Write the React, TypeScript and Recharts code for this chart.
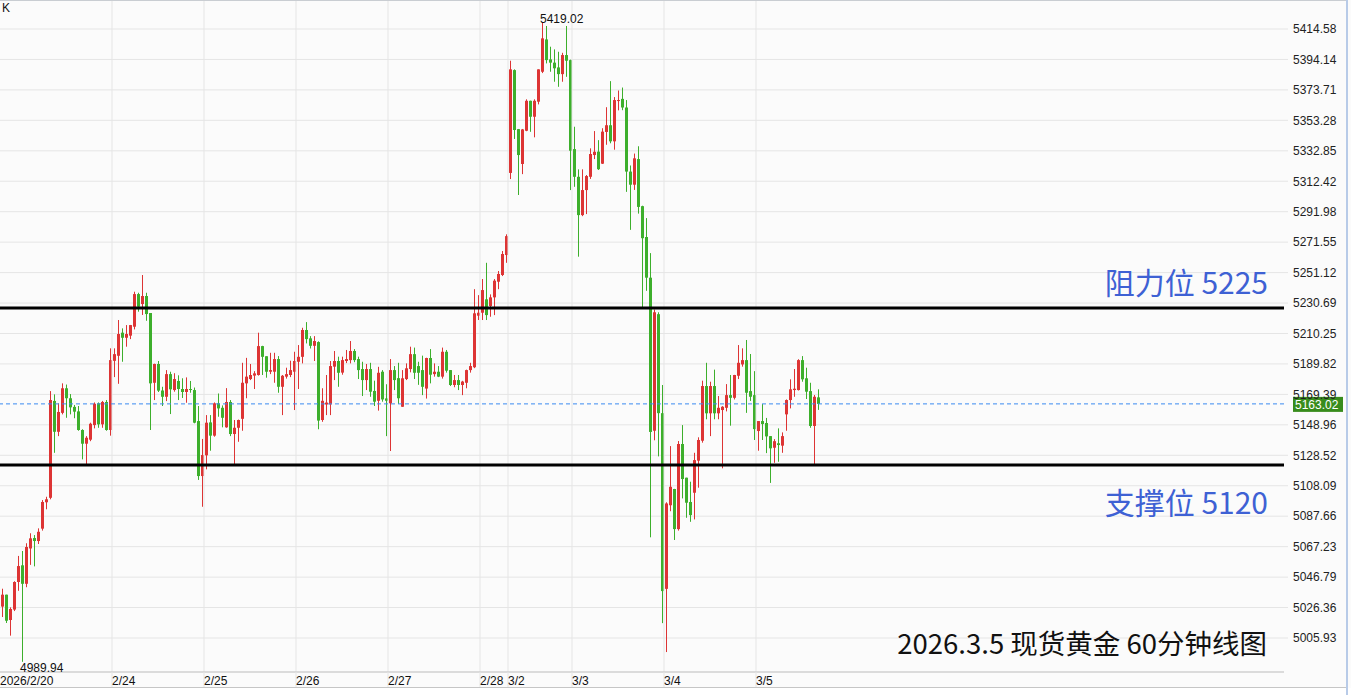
import React from 'react'
import {
  ComposedChart,
  Bar,
  XAxis,
  YAxis,
  CartesianGrid,
  ReferenceLine,
  ReferenceDot,
} from 'recharts'

// hourly candles
const opens = [
  5027, 5035, 5018, 5025, 5043.5, 5054.7, 5042.3, 5066, 5073, 5071,
  5079.3, 5097, 5100, 5165, 5144.3, 5157, 5173.5, 5166.8, 5161, 5158,
  5145.5, 5136.3, 5139, 5148.8, 5163.4, 5149.3, 5164.3, 5145.5, 5191.9, 5195.3,
  5210.8, 5207.4, 5208.8, 5214.8, 5236.7, 5230, 5235.4, 5224, 5177.2, 5189.8,
  5172, 5167.8, 5183, 5172.3, 5178.4, 5173, 5171, 5173, 5172.3, 5151.5,
  5114.6, 5128.5, 5150.6, 5141.7, 5163.4, 5160.4, 5147.3, 5164.3, 5142.8, 5147,
  5153, 5176.8, 5179.7, 5182, 5182.4, 5201.8, 5195, 5184.6, 5184.6, 5193.1,
  5174.5, 5181.3, 5182.4, 5184.6, 5191.3, 5194.6, 5212.6, 5207, 5202, 5204.5,
  5152.2, 5162.6, 5162.7, 5188, 5191.8, 5184, 5191.8, 5192.4, 5198.5, 5193.1,
  5186.4, 5179, 5186.4, 5171.7, 5165.1, 5184.6, 5166.7, 5163.4, 5185.7, 5180.3,
  5161.1, 5179.7, 5186.4, 5196.4, 5188.4, 5185.7, 5173.3, 5193.8, 5183, 5184.6,
  5181.3, 5198, 5185.7, 5175.7, 5179, 5175.7, 5177.2, 5185.7, 5187.6, 5222.2,
  5224.2, 5233.2, 5228.7, 5234.5, 5245, 5249.5, 5262.9, 5318, 5387, 5347.4,
  5324, 5346.3, 5366.4, 5355.7, 5365.8, 5385.9, 5407.6, 5394.2, 5392, 5388.8,
  5384.3, 5397.1, 5393.7, 5334, 5315.4, 5289.7, 5306.5, 5315.4, 5330, 5332.3,
  5324.2, 5345.5, 5350, 5339.2, 5366.3, 5367.7, 5361.9, 5318.9, 5310.1, 5327.3,
  5295.7, 5275, 5247.7, 5145, 5223.2, 5156.8, 5038.9, 5095, 5105.9, 5079,
  5136.1, 5113.5, 5097.2, 5103.4, 5124.9, 5138.3, 5175, 5156.7, 5175, 5156.7,
  5158.9, 5160.4, 5168.9, 5167.1, 5181.9, 5189.5, 5192.4, 5171.6, 5168.9, 5144.8,
  5151.5, 5150.2, 5141.4, 5133.6, 5136.6, 5135, 5156, 5165.6, 5172.3, 5172.3,
  5192.4, 5180.2, 5171.6, 5148.2, 5167.4,
]
const highs = [
  5039, 5035, 5026.5, 5044, 5061, 5064.3, 5069.5, 5076.2, 5075, 5079.5,
  5098.5, 5100.7, 5171.6, 5169.4, 5163.4, 5176.8, 5176, 5169.6, 5162.3, 5161.6,
  5146, 5141.4, 5150.4, 5164, 5164, 5165, 5165.6, 5200.3, 5200.3, 5219.3,
  5213.7, 5215.9, 5216, 5238.3, 5237.6, 5249.5, 5237.6, 5224, 5190, 5191.8,
  5174.5, 5185.7, 5184.6, 5183.6, 5182.2, 5180.2, 5180.8, 5178.4, 5174, 5161.6,
  5139.5, 5155.5, 5155.5, 5164, 5170, 5162, 5173.6, 5165.6, 5152.2, 5152.5,
  5190.6, 5193.9, 5189.8, 5185, 5210.8, 5202, 5195, 5197.3, 5197.3, 5195.1,
  5182.4, 5187.3, 5192, 5198, 5202.5, 5214.1, 5217.9, 5208.5, 5208.5, 5205,
  5173.5, 5182.4, 5191.8, 5198.5, 5194.7, 5194.7, 5199.2, 5205.2, 5199.8, 5194.7,
  5191.3, 5189.8, 5190.6, 5178.6, 5187.9, 5185.7, 5176.2, 5193.1, 5188.4, 5190.6,
  5185.7, 5190.2, 5201.4, 5200.8, 5191.3, 5195.4, 5194, 5199.8, 5190.2, 5188.4,
  5200.8, 5199.2, 5185.7, 5182.4, 5182.4, 5178.5, 5186, 5190.6, 5240, 5236,
  5246.8, 5257.7, 5236.5, 5246.8, 5252.2, 5265.6, 5276.8, 5393.3, 5387.5, 5347.5,
  5347.5, 5367.4, 5366.5, 5367.4, 5387.5, 5419.02, 5416.6, 5402.7, 5400.9, 5399.3,
  5398.6, 5416.6, 5394, 5349, 5320.4, 5320.4, 5316.6, 5334.5, 5346.1, 5340,
  5348, 5362.1, 5379.6, 5368.9, 5373.3, 5375.3, 5366.9, 5323, 5331, 5335.9,
  5296, 5287.7, 5264.2, 5226.3, 5224.5, 5175.7, 5097, 5134.7, 5106, 5138.1,
  5148.8, 5113.5, 5110.8, 5130.2, 5140.6, 5178.6, 5190.6, 5177.9, 5186, 5168.3,
  5161.5, 5176.3, 5182.4, 5182.5, 5202.5, 5200.3, 5205.9, 5196.5, 5185, 5151.5,
  5162.9, 5153.6, 5141.4, 5139.4, 5146.6, 5143.9, 5166, 5179.5, 5186.4, 5193,
  5195.1, 5187.3, 5177.2, 5169, 5172.8,
]
const lows = [
  5020, 5016, 5007.5, 5024, 5037.6, 4989.94, 5040, 5055, 5054, 5069,
  5078, 5092.3, 5099, 5130.2, 5141.4, 5156, 5153.7, 5156, 5153.4, 5145,
  5125.8, 5122.5, 5138, 5146.6, 5147, 5147, 5145, 5141.7, 5181, 5176.5,
  5191.3, 5201.4, 5206.5, 5213, 5224.9, 5222.7, 5218.8, 5145.5, 5165.6, 5171,
  5161.6, 5164.9, 5156.2, 5171.2, 5165.6, 5167, 5163.8, 5170.5, 5150, 5112,
  5094, 5119.1, 5131.6, 5141, 5154.4, 5147.3, 5147, 5141.4, 5122.7, 5137.6,
  5145, 5166.8, 5179, 5173, 5182, 5182.4, 5180.6, 5183, 5177.2, 5170.5,
  5155.5, 5180, 5181, 5158.9, 5173, 5190.2, 5203.6, 5200.2, 5191.8, 5146,
  5151, 5155.5, 5155.5, 5179, 5174.5, 5182.6, 5190.4, 5190.2, 5191, 5179.7,
  5168.3, 5172.3, 5167.8, 5161.6, 5158.5, 5164.5, 5141.4, 5131.4, 5172.3, 5163,
  5161, 5179, 5184.2, 5179.7, 5175.8, 5168.9, 5166.6, 5176.8, 5181.3, 5181,
  5180, 5184, 5175, 5174.2, 5172.3, 5168.9, 5173.5, 5184, 5187, 5219.3,
  5219.3, 5219.3, 5221.5, 5222.6, 5240, 5248.8, 5257.7, 5313.9, 5340.8, 5303.2,
  5317.2, 5346, 5345.6, 5341.9, 5364, 5385, 5391.5, 5385.9, 5379.2, 5375.8,
  5379.2, 5382.5, 5306.5, 5308.7, 5261.8, 5289, 5290.4, 5314, 5327.3, 5320,
  5324, 5336.9, 5337.9, 5333.6, 5360, 5360.1, 5305.3, 5279.8, 5306.6, 5290.7,
  5227.5, 5238.9, 5073.5, 5138.6, 5127.8, 5015.9, 4996.5, 5091, 5071.7, 5078,
  5099.6, 5086.6, 5083.9, 5085.5, 5106.8, 5137, 5152.7, 5141.4, 5152.7, 5152.7,
  5119.8, 5158, 5148.4, 5166, 5179.7, 5188, 5157, 5165, 5138.8, 5131.6,
  5138.8, 5130, 5110, 5123.5, 5124.2, 5130.2, 5145, 5160, 5167.8, 5172,
  5177.9, 5166.3, 5147, 5122, 5159,
]
const closes = [
  5035, 5017.5, 5025.4, 5043.5, 5054.2, 5042.3, 5067, 5072.8, 5071, 5077.2,
  5097.2, 5099, 5165.6, 5144.3, 5157.6, 5173.5, 5166.8, 5160.7, 5157.8, 5145.5,
  5136.3, 5140.3, 5149.7, 5163.1, 5149.3, 5164.3, 5145.5, 5192.4, 5196.4, 5209.9,
  5207.4, 5209.9, 5215.9, 5236.7, 5228.2, 5235.4, 5223.3, 5176.8, 5189.8, 5171.9,
  5167.8, 5183, 5172.8, 5179.7, 5173, 5171, 5173, 5172.5, 5150.4, 5114.6,
  5128.7, 5150.4, 5141.7, 5163.4, 5160, 5153.7, 5164.3, 5142.8, 5147, 5152.2,
  5177.2, 5181.3, 5182.4, 5183.5, 5201.8, 5194.6, 5184.6, 5185.7, 5193.1, 5174.5,
  5181.9, 5183, 5185.7, 5191.8, 5194.6, 5212.6, 5206.5, 5202, 5205.2, 5151.8,
  5165.1, 5163.9, 5188.4, 5191.8, 5183.9, 5192.4, 5193.1, 5198.5, 5192.4, 5185.7,
  5179, 5186.4, 5171.2, 5164.5, 5183.9, 5166, 5165.1, 5185.7, 5179, 5166.8,
  5180.2, 5186.9, 5196.4, 5183.9, 5183.9, 5174.5, 5193.8, 5182.6, 5184.6, 5181.3,
  5198, 5185.3, 5175.7, 5179, 5175.7, 5178, 5185.7, 5188.4, 5223.8, 5224.2,
  5239.4, 5222.6, 5234.5, 5245.7, 5250.2, 5263.6, 5275.6, 5387.5, 5346.8, 5330,
  5347.2, 5366.4, 5355.7, 5366.4, 5387.5, 5408.3, 5393.7, 5392, 5388.2, 5384.3,
  5397.1, 5393.3, 5332.9, 5315.4, 5289.7, 5306.5, 5315.9, 5330.7, 5332.2, 5320.5,
  5345.7, 5350, 5339.2, 5366.9, 5366.9, 5361.9, 5318.9, 5310.1, 5327.8, 5295.2,
  5274.2, 5247.7, 5144.2, 5224.5, 5156.8, 5037.4, 5096.2, 5107.4, 5079, 5136.1,
  5112.6, 5096.7, 5088.4, 5125.3, 5138.8, 5175, 5156.7, 5175, 5156.7, 5160.4,
  5161.1, 5168.9, 5167.1, 5182.4, 5190.6, 5192.4, 5170.5, 5167.8, 5146.1, 5151.5,
  5149.5, 5141.2, 5133.2, 5138, 5135.4, 5141.4, 5165.6, 5172.8, 5173.2, 5192.4,
  5179.5, 5171.2, 5148.2, 5167.8, 5163.02,
]

// first candle of each trading day, and its label
const dayStarts = [0, 28, 51, 74, 97, 120, 127, 143, 166, 189]
const dayLabels = ['2026/2/20', '2/24', '2/25', '2/26', '2/27', '2/28', '3/2', '3/3', '3/4', '3/5']

const priceTicks = [
  5005.93, 5026.36, 5046.79, 5067.23, 5087.66, 5108.09, 5128.52, 5148.96, 5169.39,
  5189.82, 5210.25, 5230.69, 5251.12, 5271.55, 5291.98, 5312.42, 5332.85, 5353.28,
  5373.71, 5394.14, 5414.58,
]

const lastPrice = 5163.02
const resistanceLevel = 5227.4
const supportLevel = 5122
const resistanceText = '阻力位 5225'
const supportText = '支撑位 5120'
const titleText = '2026.3.5 现货黄金 60分钟线图'
const highIndex = 135
const highPrice = 5419.02
const lowIndex = 5
const lowPrice = 4989.94

const SLOTS = 321 // room on the right that the chart leaves empty
const RED = '#dd3434'
const GREEN = '#3daf2c'
const BLUE_TEXT = '#3e61d4'
const GRID = '#e5e5e5'
const NUM_FONT = '"Liberation Sans", Arial, sans-serif'
const CJK_FONT = '"Noto Sans CJK SC", "Noto Sans", sans-serif'

const data = Array.from({ length: SLOTS }, (_, i) =>
  i < opens.length
    ? { i, o: opens[i], h: highs[i], l: lows[i], c: closes[i], range: [lows[i], highs[i]] }
    : { i, range: null }
)

function Candle(props: any) {
  const { x, y, width, height, payload } = props
  if (!payload || payload.o == null || x == null) return null
  const { o, h, l, c } = payload
  const top = Math.min(y, y + height)
  const span = Math.abs(height)
  const ratio = h > l ? span / (h - l) : 0
  const py = (v: number) => top + (h - v) * ratio
  const color = c >= o ? RED : GREEN
  const bx = Math.floor(x)
  const bw = Math.max(3, Math.round(width))
  const bodyTop = Math.min(py(o), py(c))
  const bodyH = Math.max(1, Math.abs(py(o) - py(c)))
  return (
    <g>
      <rect x={bx + 1} y={top} width={1} height={Math.max(1, span)} fill={color} />
      <rect x={bx} y={bodyTop} width={bw} height={bodyH} fill={color} />
    </g>
  )
}

function DayTick(props: any) {
  const { x, y, payload } = props
  const k = dayStarts.indexOf(payload.value)
  if (k < 0) return null
  const bx = x - 2
  return (
    <g>
      {k > 0 && <line x1={bx} x2={bx} y1={y} y2={y + 23} stroke={GRID} />}
      <text x={bx} y={y + 13} fontSize={12} fill="#111" fontFamily={NUM_FONT}>
        {dayLabels[k]}
      </text>
    </g>
  )
}

export default function App() {
  return (
    <div style={{ position: 'relative', width: 1351, height: 695, background: '#fff', overflow: 'hidden' }}>
      <style>{'body{margin:0}'}</style>
      <ComposedChart
        width={1351}
        height={688}
        data={data}
        margin={{ top: 0, right: 0, bottom: 0, left: 0 }}
        style={{ background: '#fbfbfb' }}
      >
        <CartesianGrid vertical={false} stroke={GRID} />
        <XAxis
          dataKey="i"
          type="category"
          interval={0}
          height={16}
          tickLine={false}
          tickSize={0}
          tickMargin={0}
          axisLine={{ stroke: '#c6c6c6' }}
          tick={<DayTick />}
        />
        <YAxis
          orientation="right"
          width={67}
          domain={[4983.11, 5434.04]}
          allowDataOverflow
          ticks={priceTicks}
          interval={0}
          axisLine={false}
          tickLine={{ stroke: GRID }}
          tickSize={4}
          tickMargin={5}
          tickFormatter={(v: number) => v.toFixed(2)}
          tick={{ fontSize: 12, fill: '#222', fontFamily: NUM_FONT }}
        />
        {dayStarts.slice(1).map((d) => (
          <ReferenceLine key={d} x={d} position="start" stroke={GRID} />
        ))}
        <Bar dataKey="range" barSize={3} shape={<Candle />} isAnimationActive={false} />
        <ReferenceLine
          y={resistanceLevel}
          stroke="#000"
          strokeWidth={3}
          label={{
            content: (p: any) => (
              <text
                x={p.viewBox.x + p.viewBox.width - 16}
                y={p.viewBox.y - 14}
                textAnchor="end"
                fontSize={30}
                fill={BLUE_TEXT}
                fontFamily={CJK_FONT}
              >
                {resistanceText}
              </text>
            ),
          }}
        />
        <ReferenceLine
          y={supportLevel}
          stroke="#000"
          strokeWidth={3}
          label={{
            content: (p: any) => (
              <text
                x={p.viewBox.x + p.viewBox.width - 16}
                y={p.viewBox.y + 49}
                textAnchor="end"
                fontSize={30}
                fill={BLUE_TEXT}
                fontFamily={CJK_FONT}
              >
                {supportText}
              </text>
            ),
          }}
        />
        <ReferenceLine
          y={lastPrice}
          stroke="#3b8af0"
          strokeDasharray="4 3"
          label={{
            content: (p: any) => (
              <g>
                <rect x={p.viewBox.x + p.viewBox.width + 9} y={p.viewBox.y - 7} width={50} height={15} fill="#388c1c" />
                <text x={p.viewBox.x + p.viewBox.width + 11} y={p.viewBox.y + 5} fontSize={12} fill="#fff" fontFamily={NUM_FONT}>
                  {lastPrice.toFixed(2)}
                </text>
              </g>
            ),
          }}
        />
        <ReferenceDot
          x={highIndex}
          y={highPrice}
          r={0}
          ifOverflow="visible"
          label={{
            content: (p: any) => (
              <text x={p.viewBox.x - 2} y={p.viewBox.y + 1} fontSize={12} fill="#111" fontFamily={NUM_FONT}>
                {highPrice.toFixed(2)}
              </text>
            ),
          }}
        />
        <ReferenceDot
          x={lowIndex}
          y={lowPrice}
          r={0}
          ifOverflow="visible"
          label={{
            content: (p: any) => (
              <text x={p.viewBox.x - 2} y={p.viewBox.y + 10} fontSize={12} fill="#111" fontFamily={NUM_FONT}>
                {lowPrice.toFixed(2)}
              </text>
            ),
          }}
        />
      </ComposedChart>
      <div style={{ position: 'absolute', left: 0, top: 0, width: 1346, height: 1, background: '#c9cdd2' }} />
      <div style={{ position: 'absolute', left: 0, top: 687, width: 1346, height: 1, background: '#c6c6c6' }} />
      <div style={{ position: 'absolute', left: 1346, top: 0, width: 2, height: 695, background: '#b8cbe8' }} />
      <div style={{ position: 'absolute', left: 2, top: 1, fontSize: 12, fontFamily: NUM_FONT, color: '#111' }}>K</div>
      <div
        style={{
          position: 'absolute',
          right: 84,
          top: 625,
          fontSize: 27.5,
          lineHeight: '34px',
          fontFamily: CJK_FONT,
          color: '#111',
          whiteSpace: 'nowrap',
        }}
      >
        {titleText}
      </div>
    </div>
  )
}
